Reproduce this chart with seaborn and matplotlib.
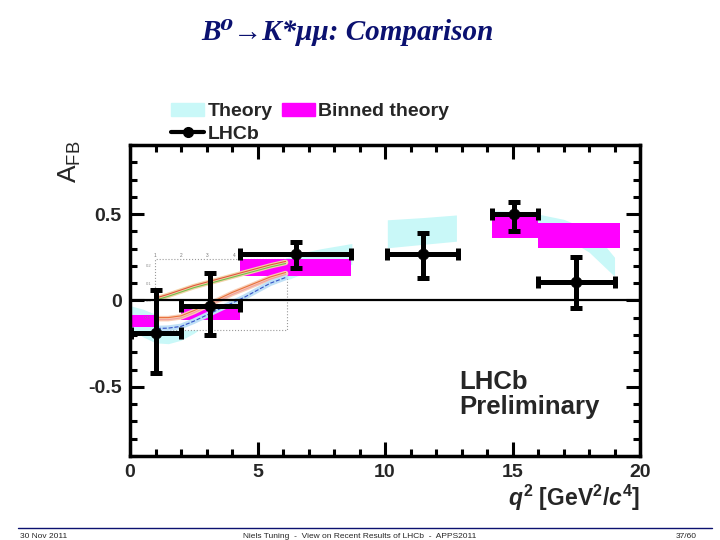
import numpy as np
import pandas as pd
import seaborn as sns
import matplotlib.pyplot as plt
from matplotlib.patches import Patch, Rectangle
from matplotlib.lines import Line2D
from matplotlib.ticker import MultipleLocator

#%% data
# LHCb measurement, bins in q2
q2_lo = [0.05, 2.0, 4.3, 10.09, 14.18, 16.0]
q2_hi = [2.0, 4.3, 8.68, 12.86, 16.0, 19.0]
lhcb_q2 = [1.0, 3.15, 6.5, 11.47, 15.05, 17.5]
lhcb_afb = [-0.19, -0.03, 0.27, 0.27, 0.50, 0.105]
err_up = [0.25, 0.19, 0.07, 0.12, 0.07, 0.145]
err_dn = [0.23, 0.17, 0.08, 0.14, 0.10, 0.15]

# binned theory boxes
bin_lo = [0.05, 2.0, 4.3, 14.18, 16.0]
bin_hi = [2.0, 4.3, 8.68, 16.0, 19.2]
bin_min = [-0.152, -0.114, 0.143, 0.362, 0.305]
bin_max = [-0.086, -0.048, 0.238, 0.486, 0.448]

# theory band, three pieces
th1_q2 = [0, 0.5, 1, 1.5, 2, 2.5, 3, 3.5, 4, 5, 6, 6.7, 7.5, 8.7]
th1_hi = [-0.03, -0.05, -0.08, -0.10, -0.09, -0.05, 0.0, 0.05, 0.10, 0.18, 0.24, 0.275, 0.30, 0.33]
th1_lo = [-0.16, -0.21, -0.245, -0.25, -0.23, -0.19, -0.14, -0.09, -0.04, 0.04, 0.11, 0.15, 0.18, 0.21]
th2_q2 = [10.09, 11.5, 12.8]
th2_hi = [0.467, 0.48, 0.495]
th2_lo = [0.305, 0.325, 0.343]
th3_q2 = [14.18, 15, 16, 17, 18, 18.5, 19.0]
th3_hi = [0.52, 0.515, 0.50, 0.47, 0.41, 0.34, 0.25]
th3_lo = [0.42, 0.42, 0.41, 0.37, 0.28, 0.21, 0.14]

# the small pasted figure inside the plot
inset_box = [0.98, -0.171, 6.14, 0.238]   # x0, y0, x1, y1
inset_ticks = ['1', '2', '3', '4', '5', '6']
inset_q2 = [1.05, 1.5, 2, 2.5, 3, 3.5, 4, 4.5, 5, 5.5, 6.1]
curve_a = [0.01, 0.03, 0.055, 0.08, 0.10, 0.12, 0.14, 0.16, 0.18, 0.20, 0.22]
curve_b = [-0.105, -0.105, -0.095, -0.065, -0.03, 0.005, 0.04, 0.07, 0.10, 0.13, 0.156]
curve_c = [-0.162, -0.16, -0.15, -0.12, -0.085, -0.05, -0.015, 0.02, 0.06, 0.10, 0.133]

x_ticks = [0, 5, 10, 15, 20]
y_ticks = [-0.5, 0, 0.5]
y_ticklabels = ['-0.5', '0', '0.5']

cyan = '#c9f8f8'
magenta = '#ff00ff'
navy = '#0b1170'

#%% style
sns.set_theme(style="ticks")
plt.rcParams['font.family'] = ['Liberation Sans', 'DejaVu Sans']
plt.rcParams['mathtext.fontset'] = 'custom'
plt.rcParams['mathtext.rm'] = 'Liberation Sans'
plt.rcParams['mathtext.it'] = 'Liberation Sans:italic:bold'
plt.rcParams['mathtext.bf'] = 'Liberation Sans:bold'
plt.rcParams['axes.unicode_minus'] = False

fig = plt.figure(figsize=(7.2, 5.4), dpi=100)
ax = fig.add_axes([0.1806, 0.1556, 0.7083, 0.5759])

#%% theory band
for qs, lo, hi in [(th1_q2, th1_lo, th1_hi), (th2_q2, th2_lo, th2_hi), (th3_q2, th3_lo, th3_hi)]:
    ax.fill_between(qs, lo, hi, color=cyan, lw=0, zorder=1)

# binned theory as bars
bins = pd.DataFrame({'lo': bin_lo, 'hi': bin_hi, 'ymin': bin_min, 'ymax': bin_max})
bars = ax.bar(bins['lo'], bins['ymax'] - bins['ymin'], width=bins['hi'] - bins['lo'],
              bottom=bins['ymin'], align='edge', color=magenta, lw=0)
for i, b in enumerate(bars):
    b.set_zorder(1.5 if i == 0 else 3)

# pasted figure
x0, y0, x1, y1 = inset_box
ax.add_patch(Rectangle((x0, y0), x1 - x0, y1 - y0, facecolor='white', edgecolor='#9a9a9a',
                       lw=0.8, ls=':', zorder=2))
for i, t in enumerate(inset_ticks):
    ax.text(x0 + i * (x1 - x0) / (len(inset_ticks) - 1), y1 + 0.005, t, fontsize=3.5,
            color='#777777', ha='center', va='bottom', zorder=2)
for i, t in enumerate(['0.2', '0.1', '0.0', '-0.1']):
    ax.text(x0 - 0.15, y1 - 0.04 - i * 0.1, t, fontsize=3, color='#888888', ha='right',
            va='center', zorder=2)

ax.plot(inset_q2, curve_a, color='#f3d3a8', lw=4, zorder=3.5)
ax.plot(inset_q2, np.array(curve_a) + 0.006, color='#e0563c', lw=0.8, zorder=3.6)
ax.plot(inset_q2, np.array(curve_a) - 0.006, color='#72bf4e', lw=0.8, zorder=3.6)
ax.plot(inset_q2, curve_b, color='#f8cdb4', lw=4, zorder=3.5)
ax.plot(inset_q2, np.array(curve_b) + 0.006, color='#e8703c', lw=0.8, zorder=3.6)
ax.plot(inset_q2, np.array(curve_b) - 0.006, color='#f0a0a0', lw=0.8, zorder=3.6)
ax.plot(inset_q2, curve_c, color='#bfe0f6', lw=4, zorder=3.5)
ax.plot(inset_q2, curve_c, color='#3452c8', lw=0.8, ls='--', zorder=3.6)

ax.axhline(0, color='black', lw=1.6, zorder=4)

#%% LHCb points
xq = np.array(lhcb_q2)
ax.errorbar(lhcb_q2, lhcb_afb, xerr=[xq - np.array(q2_lo), np.array(q2_hi) - xq],
            yerr=[err_dn, err_up], fmt='none', ecolor='black', elinewidth=3.6,
            capsize=4.5, capthick=3.6, zorder=5)
sns.scatterplot(x=lhcb_q2, y=lhcb_afb, color='black', s=60, edgecolor='black',
                ax=ax, zorder=6, legend=False)

ax.text(12.9, -0.40, 'LHCb\nPreliminary', fontsize=18.5, fontweight='bold', va='top',
        ha='left', linespacing=1.05)

#%% axes
ax.set_xlim(0, 20)
ax.set_ylim(-0.9, 0.9)
ax.set_xticks(x_ticks)
ax.set_yticks(y_ticks, labels=y_ticklabels)
ax.xaxis.set_minor_locator(MultipleLocator(1))
ax.yaxis.set_minor_locator(MultipleLocator(0.1))
ax.tick_params(which='both', direction='in', top=True, right=True, width=2.2, color='black')
ax.tick_params(which='major', length=10, pad=6, labelsize=14)
ax.tick_params(which='minor', length=5)
for lab in ax.get_xticklabels() + ax.get_yticklabels():
    lab.set_fontweight('bold')
for s in ax.spines.values():
    s.set_linewidth(2.5)
    s.set_color('black')
ax.set_xlabel(r'$q^{\mathbf{2}}$ [GeV$^{\mathbf{2}}$/$c^{\mathbf{4}}$]', fontsize=16.5,
              fontweight='bold', loc='right', labelpad=1)
fig.text(0.097, 0.70, r'$\mathrm{A}_{\mathrm{FB}}$', rotation=90, fontsize=19,
         ha='center', va='center')

handles = [Patch(color=cyan, label='Theory'),
           Line2D([], [], color='black', lw=3, marker='o', ms=7, label='LHCb'),
           Patch(color=magenta, label='Binned theory')]
fig.legend(handles=handles, loc='upper left', bbox_to_anchor=(0.238, 0.81), ncol=2,
           frameon=False, prop=dict(weight='bold', size=14), handlelength=1.7,
           handletextpad=0.15, columnspacing=0.5, labelspacing=0.25, borderpad=0,
           borderaxespad=0)

#%% slide decoration
fig.text(0.483, 0.94, 'B⁰→K*μμ: Comparison', ha='center', va='center', fontsize=21,
         style='italic', fontweight='bold', color=navy,
         family=['Liberation Serif', 'DejaVu Serif'])
fig.add_artist(Line2D([18 / 720, 712 / 720], [1 - 528 / 540] * 2, color=navy, lw=1))
foot_y = 1 - 537 / 540
fig.text(20 / 720, foot_y, '30 Nov 2011', fontsize=6, ha='left', va='center')
fig.text(360 / 720, foot_y, 'Niels Tuning  -  View on Recent Results of LHCb  -  APPS2011',
         fontsize=6, ha='center', va='center')
fig.text(697 / 720, foot_y, '37/60', fontsize=6, ha='right', va='center')

fig.savefig('out.png', dpi=100)
